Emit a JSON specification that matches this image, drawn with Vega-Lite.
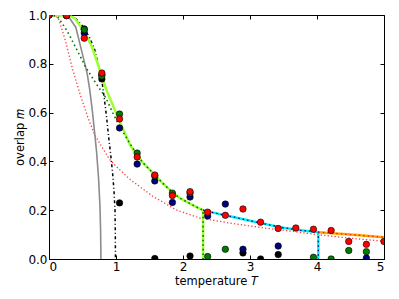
{
  "$schema": "https://vega.github.io/schema/vega-lite/v6.json",
  "width": 335,
  "height": 244,
  "autosize": "none",
  "padding": {"left": 49, "top": 15, "right": 15, "bottom": 40},
  "config": {
    "view": {"stroke": null},
    "font": "DejaVu Sans",
    "axis": {
      "domainColor": "black",
      "domainWidth": 1,
      "tickColor": "black",
      "tickSize": -4,
      "tickWidth": 1,
      "labelColor": "black",
      "labelFont": "DejaVu Sans",
      "labelFontSize": 12,
      "titleFont": "DejaVu Sans",
      "titleFontSize": 11.5,
      "titleFontWeight": "normal",
      "titleColor": "black",
      "grid": false
    }
  },
  "datasets": {
    "lines": [
      {"s": "gray", "i": 0, "T": 0, "m": 1},
      {"s": "gray", "i": 1, "T": 0.2, "m": 0.999},
      {"s": "gray", "i": 2, "T": 0.3, "m": 0.99},
      {"s": "gray", "i": 3, "T": 0.4, "m": 0.95},
      {"s": "gray", "i": 4, "T": 0.49, "m": 0.85},
      {"s": "gray", "i": 5, "T": 0.57, "m": 0.76},
      {"s": "gray", "i": 6, "T": 0.61, "m": 0.69},
      {"s": "gray", "i": 7, "T": 0.65, "m": 0.6},
      {"s": "gray", "i": 8, "T": 0.68, "m": 0.52},
      {"s": "gray", "i": 9, "T": 0.71, "m": 0.44},
      {"s": "gray", "i": 10, "T": 0.74, "m": 0.33},
      {"s": "gray", "i": 11, "T": 0.76, "m": 0.22},
      {"s": "gray", "i": 12, "T": 0.77, "m": 0.12},
      {"s": "gray", "i": 13, "T": 0.775, "m": 0},

      {"s": "black", "i": 0, "T": 0, "m": 1},
      {"s": "black", "i": 1, "T": 0.3, "m": 0.996},
      {"s": "black", "i": 2, "T": 0.4, "m": 0.985},
      {"s": "black", "i": 3, "T": 0.5, "m": 0.955},
      {"s": "black", "i": 4, "T": 0.6, "m": 0.91},
      {"s": "black", "i": 5, "T": 0.68, "m": 0.86},
      {"s": "black", "i": 6, "T": 0.74, "m": 0.79},
      {"s": "black", "i": 7, "T": 0.79, "m": 0.73},
      {"s": "black", "i": 8, "T": 0.82, "m": 0.67},
      {"s": "black", "i": 9, "T": 0.86, "m": 0.58},
      {"s": "black", "i": 10, "T": 0.89, "m": 0.5},
      {"s": "black", "i": 11, "T": 0.92, "m": 0.43},
      {"s": "black", "i": 12, "T": 0.95, "m": 0.35},
      {"s": "black", "i": 13, "T": 0.97, "m": 0.28},
      {"s": "black", "i": 14, "T": 0.985, "m": 0.2},
      {"s": "black", "i": 15, "T": 0.99, "m": 0.1},
      {"s": "black", "i": 16, "T": 0.992, "m": 0},

      {"s": "salmon", "i": 0, "T": 0, "m": 1},
      {"s": "salmon", "i": 1, "T": 0.1, "m": 0.995},
      {"s": "salmon", "i": 2, "T": 0.15, "m": 0.98},
      {"s": "salmon", "i": 3, "T": 0.25, "m": 0.89},
      {"s": "salmon", "i": 4, "T": 0.35, "m": 0.78},
      {"s": "salmon", "i": 5, "T": 0.47, "m": 0.67},
      {"s": "salmon", "i": 6, "T": 0.58, "m": 0.58},
      {"s": "salmon", "i": 7, "T": 0.68, "m": 0.51},
      {"s": "salmon", "i": 8, "T": 0.81, "m": 0.45},
      {"s": "salmon", "i": 9, "T": 0.9, "m": 0.41},
      {"s": "salmon", "i": 10, "T": 1.0, "m": 0.38},
      {"s": "salmon", "i": 11, "T": 1.21, "m": 0.326},
      {"s": "salmon", "i": 12, "T": 1.56, "m": 0.255},
      {"s": "salmon", "i": 13, "T": 1.91, "m": 0.2},
      {"s": "salmon", "i": 14, "T": 2.25, "m": 0.168},
      {"s": "salmon", "i": 15, "T": 2.75, "m": 0.145},
      {"s": "salmon", "i": 16, "T": 3.25, "m": 0.126},
      {"s": "salmon", "i": 17, "T": 3.5, "m": 0.118},
      {"s": "salmon", "i": 18, "T": 4.0, "m": 0.1},
      {"s": "salmon", "i": 19, "T": 4.5, "m": 0.085},
      {"s": "salmon", "i": 20, "T": 5.0, "m": 0.073},

      {"s": "lime", "i": 0, "T": 0, "m": 1},
      {"s": "lime", "i": 1, "T": 0.3, "m": 0.998},
      {"s": "lime", "i": 2, "T": 0.39, "m": 0.985},
      {"s": "lime", "i": 3, "T": 0.54, "m": 0.925},
      {"s": "lime", "i": 4, "T": 0.64, "m": 0.87},
      {"s": "lime", "i": 5, "T": 0.74, "m": 0.79},
      {"s": "lime", "i": 6, "T": 0.86, "m": 0.69},
      {"s": "lime", "i": 7, "T": 0.985, "m": 0.61},
      {"s": "lime", "i": 8, "T": 1.11, "m": 0.53},
      {"s": "lime", "i": 9, "T": 1.21, "m": 0.467},
      {"s": "lime", "i": 10, "T": 1.28, "m": 0.44},
      {"s": "lime", "i": 11, "T": 1.4, "m": 0.395},
      {"s": "lime", "i": 12, "T": 1.56, "m": 0.35},
      {"s": "lime", "i": 13, "T": 1.7, "m": 0.31},
      {"s": "lime", "i": 14, "T": 1.83, "m": 0.276},
      {"s": "lime", "i": 15, "T": 1.95, "m": 0.25},
      {"s": "lime", "i": 16, "T": 2.1, "m": 0.228},
      {"s": "lime", "i": 17, "T": 2.2, "m": 0.213},
      {"s": "lime", "i": 18, "T": 2.3, "m": 0.2},
      {"s": "lime", "i": 19, "T": 2.3, "m": 0},

      {"s": "green", "i": 0, "T": 0, "m": 1},
      {"s": "green", "i": 1, "T": 0.12, "m": 0.995},
      {"s": "green", "i": 2, "T": 0.2, "m": 0.965},
      {"s": "green", "i": 3, "T": 0.3, "m": 0.92},
      {"s": "green", "i": 4, "T": 0.42, "m": 0.855},
      {"s": "green", "i": 5, "T": 0.55, "m": 0.785},
      {"s": "green", "i": 6, "T": 0.7, "m": 0.72},
      {"s": "green", "i": 7, "T": 0.85, "m": 0.66},
      {"s": "green", "i": 8, "T": 0.95, "m": 0.6},
      {"s": "green", "i": 9, "T": 1.05, "m": 0.545},
      {"s": "green", "i": 10, "T": 1.15, "m": 0.5},
      {"s": "green", "i": 11, "T": 1.25, "m": 0.455},
      {"s": "green", "i": 12, "T": 1.4, "m": 0.395},
      {"s": "green", "i": 13, "T": 1.56, "m": 0.35},
      {"s": "green", "i": 14, "T": 1.7, "m": 0.31},
      {"s": "green", "i": 15, "T": 1.83, "m": 0.276},
      {"s": "green", "i": 16, "T": 1.95, "m": 0.25},
      {"s": "green", "i": 17, "T": 2.1, "m": 0.228},
      {"s": "green", "i": 18, "T": 2.2, "m": 0.213},
      {"s": "green", "i": 19, "T": 2.3, "m": 0.2},
      {"s": "green", "i": 20, "T": 2.3, "m": 0},

      {"s": "cyan", "i": 0, "T": 2.3, "m": 0.2},
      {"s": "cyan", "i": 1, "T": 2.5, "m": 0.187},
      {"s": "cyan", "i": 2, "T": 2.75, "m": 0.172},
      {"s": "cyan", "i": 3, "T": 3.0, "m": 0.157},
      {"s": "cyan", "i": 4, "T": 3.25, "m": 0.142},
      {"s": "cyan", "i": 5, "T": 3.5, "m": 0.128},
      {"s": "cyan", "i": 6, "T": 3.75, "m": 0.118},
      {"s": "cyan", "i": 7, "T": 4.02, "m": 0.11},
      {"s": "cyan", "i": 8, "T": 4.02, "m": 0},

      {"s": "orange", "i": 0, "T": 4.02, "m": 0.11},
      {"s": "orange", "i": 1, "T": 4.5, "m": 0.1},
      {"s": "orange", "i": 2, "T": 5.0, "m": 0.089}
    ],
    "pts": [
      {"c": "black", "T": 0, "m": 1},
      {"c": "black", "T": 0.263, "m": 0.998},
      {"c": "black", "T": 0.526, "m": 0.943},
      {"c": "black", "T": 0.789, "m": 0.738},
      {"c": "black", "T": 1.053, "m": 0.23},
      {"c": "black", "T": 1.579, "m": 0.002},
      {"c": "black", "T": 2.105, "m": 0.012},
      {"c": "black", "T": 2.895, "m": 0.025},
      {"c": "black", "T": 3.158, "m": 0.0},
      {"c": "black", "T": 3.421, "m": 0.018},
      {"c": "navy", "T": 0, "m": 1},
      {"c": "navy", "T": 0.263, "m": 0.998},
      {"c": "navy", "T": 0.526, "m": 0.926},
      {"c": "navy", "T": 0.789, "m": 0.755},
      {"c": "navy", "T": 1.053, "m": 0.537},
      {"c": "navy", "T": 1.316, "m": 0.389},
      {"c": "navy", "T": 1.579, "m": 0.32},
      {"c": "navy", "T": 1.842, "m": 0.232},
      {"c": "navy", "T": 2.105, "m": 0.254},
      {"c": "navy", "T": 2.368, "m": 0.176},
      {"c": "navy", "T": 2.632, "m": 0.225},
      {"c": "navy", "T": 2.895, "m": 0.04},
      {"c": "navy", "T": 3.421, "m": 0.053},
      {"c": "navy", "T": 4.737, "m": 0.004},
      {"c": "green", "T": 0, "m": 1},
      {"c": "green", "T": 0.263, "m": 0.998},
      {"c": "green", "T": 0.526, "m": 0.94},
      {"c": "green", "T": 0.789, "m": 0.75},
      {"c": "green", "T": 1.053, "m": 0.594},
      {"c": "green", "T": 1.316, "m": 0.434},
      {"c": "green", "T": 1.579, "m": 0.34},
      {"c": "green", "T": 1.842, "m": 0.27},
      {"c": "green", "T": 2.105, "m": 0.27},
      {"c": "green", "T": 2.368, "m": 0.01},
      {"c": "green", "T": 2.632, "m": 0.04},
      {"c": "green", "T": 3.947, "m": 0.007},
      {"c": "green", "T": 4.211, "m": 0.0},
      {"c": "green", "T": 4.474, "m": 0.035},
      {"c": "green", "T": 4.737, "m": 0.03},
      {"c": "red", "T": 0, "m": 1},
      {"c": "red", "T": 0.263, "m": 0.998},
      {"c": "red", "T": 0.526, "m": 0.905},
      {"c": "red", "T": 0.789, "m": 0.762},
      {"c": "red", "T": 1.053, "m": 0.574},
      {"c": "red", "T": 1.316, "m": 0.418},
      {"c": "red", "T": 1.579, "m": 0.344},
      {"c": "red", "T": 1.842, "m": 0.26},
      {"c": "red", "T": 2.105, "m": 0.276},
      {"c": "red", "T": 2.368, "m": 0.192},
      {"c": "red", "T": 2.632, "m": 0.179},
      {"c": "red", "T": 2.895, "m": 0.205},
      {"c": "red", "T": 3.158, "m": 0.151},
      {"c": "red", "T": 3.421, "m": 0.125},
      {"c": "red", "T": 3.684, "m": 0.127},
      {"c": "red", "T": 3.947, "m": 0.122},
      {"c": "red", "T": 4.211, "m": 0.117},
      {"c": "red", "T": 4.474, "m": 0.072},
      {"c": "red", "T": 4.737, "m": 0.06},
      {"c": "red", "T": 5.0, "m": 0.072}
    ]
  },
  "resolve": {"axis": {"x": "independent", "y": "independent"}},
  "layer": [
    {
      "encoding": {
        "x": {"field": "T", "type": "quantitative", "scale": {"domain": [0, 5], "nice": false},
              "axis": {"orient": "bottom", "values": [0, 1, 2, 3, 4, 5], "format": "d", "labelPadding": 6, "title": "temperature 𝑇", "titlePadding": 3}},
        "y": {"field": "m", "type": "quantitative", "scale": {"domain": [0, 1], "nice": false},
              "axis": {"orient": "left", "values": [0, 0.2, 0.4, 0.6, 0.8, 1.0], "format": ".1f", "labelPadding": 6, "title": "overlap 𝑚", "titlePadding": 2}},
        "order": {"field": "i", "type": "quantitative"}
      },
      "layer": [
        {"data": {"name": "lines"}, "transform": [{"filter": "datum.s === 'salmon'"}],
         "mark": {"type": "line", "color": "#ff3a3a", "strokeWidth": 1.3, "strokeDash": [1.3, 2.2], "clip": true}},
        {"data": {"name": "lines"}, "transform": [{"filter": "datum.s === 'gray'"}],
         "mark": {"type": "line", "color": "#8c8c8c", "strokeWidth": 1.6, "clip": true}},
        {"data": {"name": "lines"}, "transform": [{"filter": "datum.s === 'black'"}],
         "mark": {"type": "line", "color": "black", "strokeWidth": 1.5, "strokeDash": [3, 2.5, 1, 2.5], "clip": true}},
        {"data": {"name": "lines"}, "transform": [{"filter": "datum.s === 'lime'"}],
         "mark": {"type": "line", "color": "#9cff2e", "strokeWidth": 2.5, "clip": true}},
        {"data": {"name": "lines"}, "transform": [{"filter": "datum.s === 'cyan'"}],
         "mark": {"type": "line", "color": "#00f0f0", "strokeWidth": 2.5, "clip": true}},
        {"data": {"name": "lines"}, "transform": [{"filter": "datum.s === 'orange'"}],
         "mark": {"type": "line", "color": "#ffa500", "strokeWidth": 2.5, "clip": true}},
        {"data": {"name": "lines"}, "transform": [{"filter": "datum.s === 'green'"}],
         "mark": {"type": "line", "color": "#007a00", "strokeWidth": 1.6, "strokeDash": [1.6, 3], "clip": true}},
        {"data": {"name": "lines"}, "transform": [{"filter": "datum.s === 'cyan'"}],
         "mark": {"type": "line", "color": "#00008b", "strokeWidth": 1.3, "strokeDash": [1.5, 3], "clip": true}},
        {"data": {"name": "lines"}, "transform": [{"filter": "datum.s === 'orange'"}],
         "mark": {"type": "line", "color": "#ff2000", "strokeWidth": 1.3, "strokeDash": [1.5, 3], "clip": true}},
        {"data": {"name": "pts"},
         "mark": {"type": "point", "filled": true, "size": 42, "opacity": 1, "stroke": "black", "strokeWidth": 0.6, "clip": true},
         "encoding": {
           "order": null,
           "fill": {"field": "c", "type": "nominal", "legend": null,
                    "scale": {"domain": ["black", "navy", "green", "red"], "range": ["#000000", "#00007a", "#007a00", "#ff0000"]}}
         }}
      ]
    },
    {
      "data": {"values": [{"T": 0, "m": 0}]},
      "mark": {"type": "point", "opacity": 0},
      "encoding": {
        "x": {"field": "T", "type": "quantitative", "scale": {"domain": [0, 5], "nice": false},
              "axis": {"orient": "top", "values": [0, 1, 2, 3, 4, 5], "labels": false, "title": null}},
        "y": {"field": "m", "type": "quantitative", "scale": {"domain": [0, 1], "nice": false},
              "axis": {"orient": "right", "values": [0, 0.2, 0.4, 0.6, 0.8, 1.0], "labels": false, "title": null}}
      }
    }
  ]
}
